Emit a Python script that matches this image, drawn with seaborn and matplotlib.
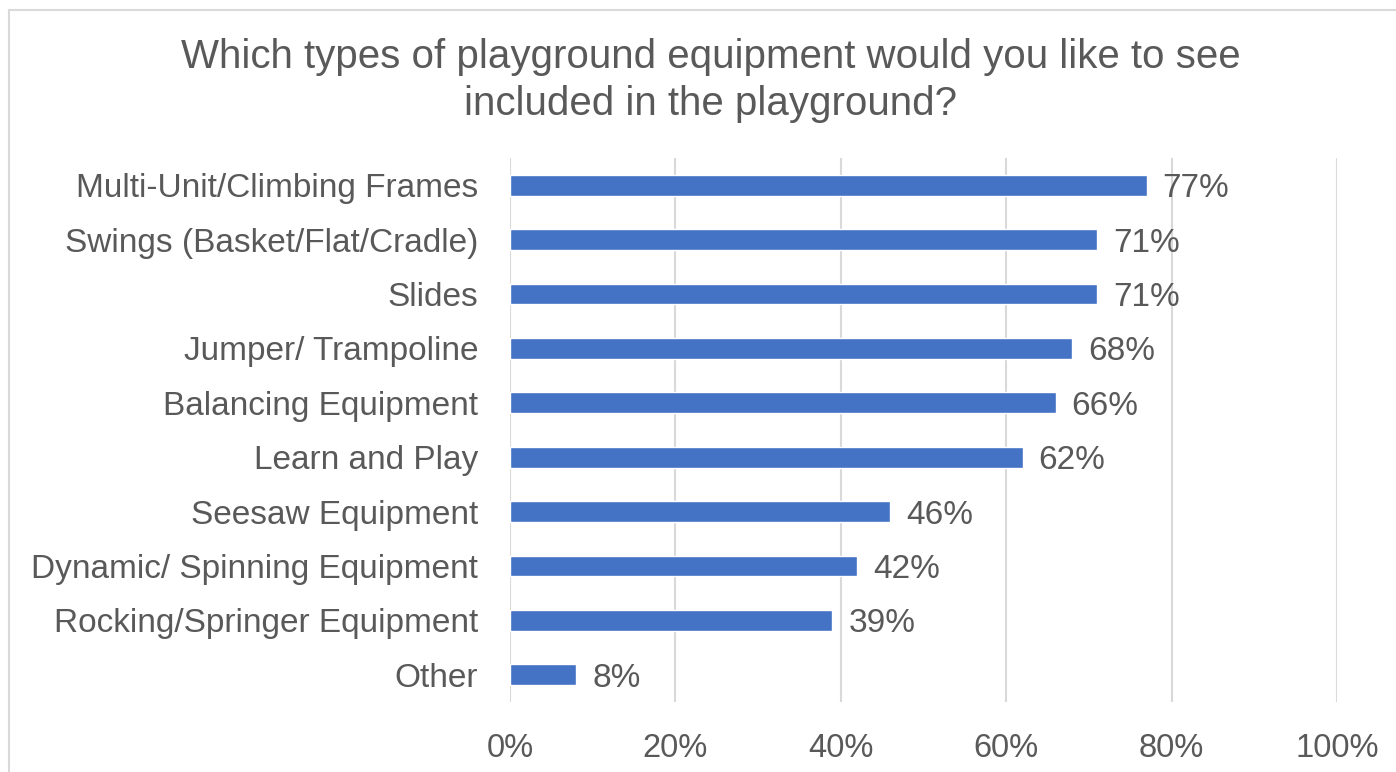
import pandas as pd
import seaborn as sns
import matplotlib.pyplot as plt
from matplotlib.patches import Rectangle
from matplotlib.ticker import FuncFormatter

# data
categories = [
    "Multi-Unit/Climbing Frames",
    "Swings (Basket/Flat/Cradle)",
    "Slides",
    "Jumper/ Trampoline",
    "Balancing Equipment",
    "Learn and Play",
    "Seesaw Equipment",
    "Dynamic/ Spinning Equipment",
    "Rocking/Springer Equipment",
    "Other",
]
values = [77, 71, 71, 68, 66, 62, 46, 42, 39, 8]
xticks = [0, 20, 40, 60, 80, 100]

df = pd.DataFrame({"item": categories, "pct": values})

sns.set_style("white")
plt.rcParams['font.family'] = ['Liberation Sans', 'DejaVu Sans']

text_col = "#595959"
bar_col = "#4472C4"
grid_col = "#D9D9D9"

fig = plt.figure(figsize=(13.96, 7.72), dpi=100)
ax = fig.add_axes([0.3653, 0.0907, 0.5924, 0.7046])

sns.barplot(data=df, x="pct", y="item", orient="h", color=bar_col,
            width=0.38, saturation=1, ax=ax, zorder=3)

ax.set_xlim(0, 100)
ax.set_xticks(xticks)
ax.xaxis.set_major_formatter(FuncFormatter(lambda v, p: f"{v:.0f}%"))
ax.grid(axis="x", color=grid_col, linewidth=1.5, zorder=0)
ax.set_axisbelow(True)
for s in ax.spines.values():
    s.set_visible(False)
ax.set_xlabel("")
ax.set_ylabel("")
ax.tick_params(axis="x", length=0, pad=22, labelsize=23.5, labelcolor=text_col)
ax.tick_params(axis="y", length=0, pad=23, labelsize=24, labelcolor=text_col)

for bars in ax.containers:
    lbls = ax.bar_label(bars, labels=[f"{v}%" for v in values], padding=11.5,
                        fontsize=24, color=text_col)
    for t in lbls:
        t.set_va("center_baseline")

fig.text(0.509, 0.896, "Which types of playground equipment would you like to see\nincluded in the playground?",
         ha="center", va="center", fontsize=29, color=text_col, linespacing=1.3)

# light chart-area border
fig.patches.append(Rectangle((9 / 1396, -0.05), 1.2, 1 - 10 / 772 + 0.05,
                             transform=fig.transFigure, fill=False,
                             edgecolor="#D9D9D9", linewidth=1.5))

fig.savefig("out.png", dpi=100)
